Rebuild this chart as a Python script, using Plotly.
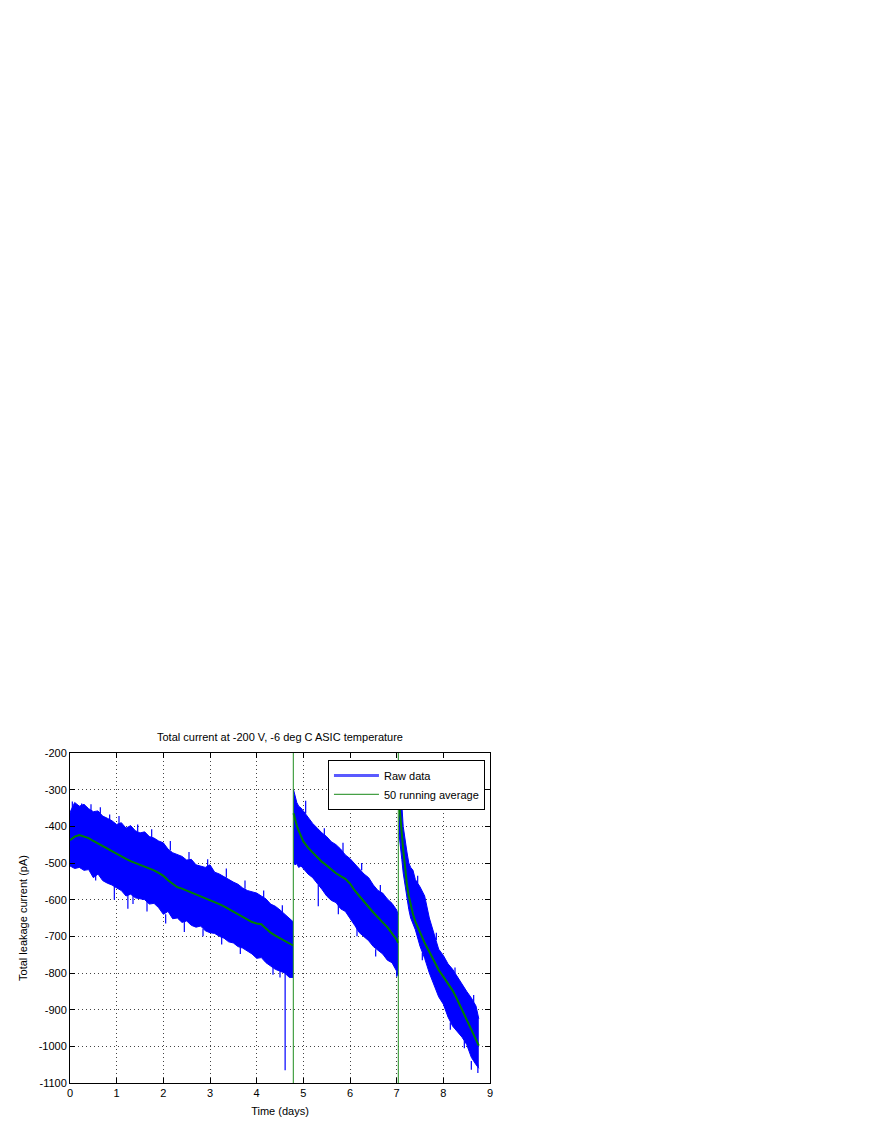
import plotly.graph_objects as go


##########
# Inputs #
##########

PLOT_TITLE = "Total current at -200 V, -6 deg C ASIC temperature"
X_TITLE = "Time (days)"
Y_TITLE = "Total leakage current (pA)"

# Segment 1 (bias ramp at t=0)
SEG1_T = [0.0, 0.1, 0.2, 0.3, 0.4, 0.5, 0.6, 0.7, 0.8, 0.9,
          1.0, 1.1, 1.2, 1.3, 1.4, 1.5, 1.6, 1.7, 1.8, 1.9,
          2.0, 2.1, 2.2, 2.3, 2.4, 2.5, 2.6, 2.7, 2.8, 2.9,
          3.0, 3.1, 3.2, 3.3, 3.4, 3.5, 3.6, 3.7, 3.8, 3.9,
          4.0, 4.1, 4.2, 4.3, 4.4, 4.5, 4.6, 4.7, 4.78]
SEG1_RAW_HIGH = [-362, -335, -345, -340, -352, -360, -358, -372, -378, -385,
                 -395, -390, -405, -398, -412, -418, -415, -428, -432, -440,
                 -445, -462, -472, -478, -482, -492, -490, -505, -508, -512,
                 -505, -525, -530, -538, -545, -552, -558, -568, -575, -578,
                 -582, -590, -598, -612, -618, -628, -640, -652, -660]
SEG1_RAW_LOW = [-508, -515, -512, -520, -518, -540, -530, -548, -555, -560,
                -568, -575, -590, -585, -595, -598, -600, -612, -610, -622,
                -640, -632, -652, -650, -662, -658, -670, -675, -672, -685,
                -690, -692, -700, -705, -715, -718, -728, -732, -740, -748,
                -760, -758, -772, -780, -790, -795, -800, -812, -812]
SEG1_AVG = [-438, -428, -424, -427, -432, -440, -447, -454, -462, -469,
            -477, -483, -489, -495, -501, -505, -510, -514, -520, -527,
            -535, -547, -557, -566, -570, -575, -580, -585, -590, -596,
            -601, -606, -612, -618, -625, -632, -640, -648, -655, -661,
            -665, -667, -679, -690, -698, -705, -712, -719, -725]

# Segment 2
SEG2_T = [4.79, 4.82, 4.86, 4.9, 4.95, 5.0, 5.1, 5.2, 5.3, 5.4, 5.5, 5.6, 5.7,
          5.8, 5.9, 6.0, 6.1, 6.2, 6.3, 6.4, 6.5, 6.6, 6.7, 6.8, 6.9, 7.0, 7.03]
SEG2_RAW_HIGH = [-300, -318, -335, -345, -350, -358, -375, -392, -405, -418, -428, -442, -450,
                 -462, -478, -488, -502, -515, -530, -540, -560, -575, -582, -598, -610, -628, -640]
SEG2_RAW_LOW = [-498, -505, -502, -512, -508, -515, -530, -540, -555, -572, -590, -602, -608,
                -625, -632, -650, -670, -690, -700, -712, -728, -738, -748, -765, -772, -795, -808]
SEG2_AVG = [-364, -380, -398, -412, -428, -441, -458, -472, -486, -497, -507, -518, -528,
            -536, -543, -556, -575, -590, -604, -620, -635, -650, -662, -675, -692, -709, -718]

# Segment 3
SEG3_T = [7.05, 7.08, 7.11, 7.14, 7.18, 7.22, 7.26, 7.3, 7.35, 7.4, 7.5, 7.6,
          7.7, 7.8, 7.9, 8.0, 8.1, 8.2, 8.3, 8.4, 8.5, 8.6, 8.7, 8.76]
SEG3_RAW_HIGH = [-300, -325, -340, -400, -440, -470, -500, -512, -520, -545, -565, -590,
                 -650, -690, -735, -752, -775, -790, -812, -830, -850, -868, -890, -925]
SEG3_RAW_LOW = [-420, -450, -490, -527, -560, -600, -627, -650, -668, -682, -727, -760,
                -800, -835, -865, -885, -920, -945, -960, -975, -995, -1030, -1050, -1060]
SEG3_AVG = [-330, -380, -418, -464, -509, -560, -590, -615, -640, -660, -690, -718,
            -742, -768, -792, -810, -830, -848, -873, -900, -925, -952, -978, -998]

# Isolated raw data excursions beyond the noise band
SPIKE_T = [0.05, 0.25, 0.45, 0.65, 0.85, 1.05, 1.45, 1.75, 2.15, 2.55,
           2.95, 3.35, 3.75, 4.15, 4.55,
           0.55, 0.95, 1.24, 1.35, 1.65, 2.05, 2.45, 2.85, 3.25, 3.65,
           4.35, 4.5, 4.61,
           5.05, 5.45, 5.85, 6.25, 6.65,
           5.32, 5.75, 6.15, 6.55, 7.0,
           7.45, 7.85, 8.25, 8.65,
           7.55, 8.15, 8.45, 8.6, 8.74]
SPIKE_TOP = [-332, -338, -340, -348, -368, -372, -395, -408, -440, -470,
             -490, -515, -548, -575, -615,
             -530, -560, -580, -590, -605, -640, -660, -680, -700, -730,
             -785, -795, -800,
             -330, -405, -445, -500, -560,
             -560, -615, -675, -735, -795,
             -535, -690, -785, -860,
             -745, -935, -985, -1040, -1050]
SPIKE_BOTTOM = [-360, -350, -358, -365, -385, -395, -415, -430, -465, -490,
                -510, -540, -570, -595, -635,
                -548, -600, -625, -612, -632, -665, -688, -700, -722, -748,
                -805, -812, -1065,
                -365, -425, -470, -520, -580,
                -618, -640, -700, -755, -810,
                -555, -710, -800, -880,
                -765, -955, -1005, -1064, -1073]

# Running average jumps to off-scale values at the restarts
RESTART_T = [4.785, 7.035]

X_TICKS = [0, 1, 2, 3, 4, 5, 6, 7, 8, 9]
Y_TICKS = [-200, -300, -400, -500, -600, -700, -800, -900, -1000, -1100]
Y_TICK_LABELS = ["-200", "-300", "-400", "-500", "-600", "-700", "-800", "-900", "-1000", "-1100"]

######################
# Maps and constants #
######################

RAW_COLOUR = "rgb(0,0,255)"
AVG_COLOUR = "rgb(0,128,0)"
FONT = "Liberation Sans, Arial, sans-serif"

# The page body has an 8px margin, so the figure is 8px smaller than the window
FIG_WIDTH = 864
FIG_HEIGHT = 1120


################
# Build figure #
################

figure = go.Figure()

segments = [
    (SEG1_T, SEG1_RAW_HIGH, SEG1_RAW_LOW, SEG1_AVG),
    (SEG2_T, SEG2_RAW_HIGH, SEG2_RAW_LOW, SEG2_AVG),
    (SEG3_T, SEG3_RAW_HIGH, SEG3_RAW_LOW, SEG3_AVG),
]

# Raw data as a filled noise band
for seg_t, seg_high, seg_low, _ in segments:
    figure.add_trace(go.Scatter(
        x=seg_t, y=seg_high, mode="lines",
        line=dict(color=RAW_COLOUR, width=1),
        showlegend=False, hoverinfo="skip"
    ))
    figure.add_trace(go.Scatter(
        x=seg_t, y=seg_low, mode="lines",
        line=dict(color=RAW_COLOUR, width=1),
        fill="tonexty", fillcolor=RAW_COLOUR,
        showlegend=False, hoverinfo="skip"
    ))

for t, top, bottom in zip(SPIKE_T, SPIKE_TOP, SPIKE_BOTTOM):
    figure.add_trace(go.Scatter(
        x=[t, t], y=[top, bottom], mode="lines",
        line=dict(color=RAW_COLOUR, width=1.2),
        showlegend=False, hoverinfo="skip"
    ))

# Running average
for seg_t, _, _, seg_avg in segments:
    figure.add_trace(go.Scatter(
        x=seg_t, y=seg_avg, mode="lines",
        line=dict(color=AVG_COLOUR, width=2),
        showlegend=False
    ))

for t in RESTART_T:
    figure.add_vline(x=t, line=dict(color="rgb(30,140,30)", width=1), layer="above")

# Dummy traces for legend
figure.add_trace(go.Scatter(
    x=[None], y=[None], mode="lines", name="Raw data",
    line=dict(color="rgb(90,90,255)", width=3)
))
figure.add_trace(go.Scatter(
    x=[None], y=[None], mode="lines", name="50 running average",
    line=dict(color="rgb(70,160,70)", width=1.2)
))


##########
# Layout #
##########

axis_style = dict(
    showline=True,
    linecolor="black",
    linewidth=1,
    mirror="ticks",
    ticks="inside",
    ticklen=5,
    tickcolor="black",
    showgrid=True,
    gridcolor="#444444",
    griddash="1px,3px",
    gridwidth=1,
    zeroline=False,
    tickfont=dict(size=11, color="black", family=FONT),
    automargin=False,
)

figure.update_xaxes(
    range=[0, 9],
    tickvals=X_TICKS,
    title=dict(text=X_TITLE, font=dict(size=11, color="black", family=FONT), standoff=9),
    **axis_style
)
figure.update_yaxes(
    range=[-1100, -200],
    tickvals=Y_TICKS,
    ticktext=Y_TICK_LABELS,
    title=dict(text=Y_TITLE, font=dict(size=11, color="black", family=FONT), standoff=8),
    **axis_style
)

figure.update_layout(
    width=FIG_WIDTH,
    height=FIG_HEIGHT,
    margin=dict(l=62, r=382, t=745, b=45, pad=0),
    paper_bgcolor="white",
    plot_bgcolor="white",
    font=dict(family=FONT, size=11, color="black"),
    title=dict(
        text=PLOT_TITLE,
        font=dict(size=11, color="black", family=FONT),
        x=0.5, xref="paper", xanchor="center",
        y=1 - 729 / FIG_HEIGHT, yref="container", yanchor="middle"
    ),
    legend=dict(
        x=0.988, y=0.979, xanchor="right", yanchor="top",
        bgcolor="white", bordercolor="black", borderwidth=1,
        font=dict(size=11, color="black", family=FONT),
        traceorder="normal",
        tracegroupgap=0,
        itemwidth=45
    ),
    showlegend=True
)

figure.write_html("out.html", config={"displayModeBar": False})
